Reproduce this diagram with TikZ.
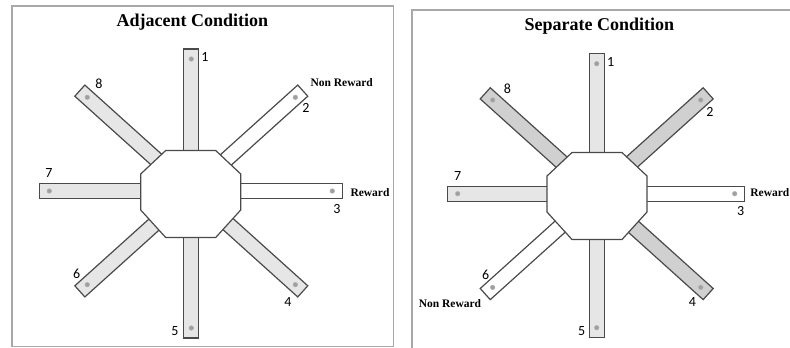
\documentclass[tikz,border=0pt]{standalone}
\usepackage{fontspec}
\setmainfont{Liberation Serif}
\newfontfamily\numfont{Carlito}
\definecolor{armlight}{HTML}{E6E6E6}
\definecolor{armdark}{HTML}{D0D0D0}
\definecolor{edgegray}{HTML}{4A4A4A}
\definecolor{framegray}{HTML}{A8A8A8}
\tikzset{
  armline/.style={draw=edgegray, line width=1.2pt},
  screwdot/.style={fill=gray!75, draw=gray!60, line width=0.5pt},
  octa/.style={draw=edgegray, line width=1.2pt, fill=white},
  num/.style={font=\numfont\fontsize{14}{14}\selectfont, inner sep=0pt},
  tag/.style={font=\bfseries\fontsize{11.5}{12}\selectfont, inner sep=0pt},
  ttl/.style={font=\bfseries\fontsize{18}{20}\selectfont, inner sep=0pt},
  panel/.style={draw=framegray, line width=1.3pt},
}
% center x, center y, angle, length, fill
\newcommand\armbar[5]{%
  \begin{scope}[shift={(#1,#2)}, rotate=#3]
    \draw[armline, fill=#5] (0,-7.5) rectangle (#4,7.5);
    \draw[screwdot] (#4-10,0) circle (2.3);
  \end{scope}}
% center x, center y
\newcommand\octagonbox[2]{%
  \draw[octa] (#1-25,#2-43.5) -- (#1+25,#2-43.5) -- (#1+50,#2-20) -- (#1+50,#2+16)
    -- (#1+25,#2+43.5) -- (#1-25,#2+43.5) -- (#1-50,#2+16) -- (#1-50,#2-20) -- cycle;}
\begin{document}
\begin{tikzpicture}[x=1pt,y=-1pt]
\useasboundingbox (0,0) rectangle (790,348);
\fill[white] (0,0) rectangle (790,348);

% ---------- Left panel ----------
\draw[panel] (12,6) rectangle (393.5,346.5);
\node[ttl] (t1) at (192.3,22.5) {Adjacent Condition};
\armbar{191.3}{191}{90}{142}{armlight}
\armbar{191.3}{191}{42}{150}{white}
\armbar{191.3}{191}{0}{151}{white}
\armbar{191.3}{191}{-42}{150}{armlight}
\armbar{191.3}{191}{-90}{147}{armlight}
\armbar{191.3}{191}{-138}{150}{armlight}
\armbar{191.3}{191}{180}{152}{armlight}
\armbar{191.3}{191}{138}{150}{armlight}
\octagonbox{190.7}{194}
\node[num] (a1) at (205,57) {1};
\node[num] (a2) at (306,107.5) {2};
\node[num] (a3) at (337,209) {3};
\node[num] (a4) at (288,302.5) {4};
\node[num] (a5) at (175,331.5) {5};
\node[num] (a6) at (76.7,274) {6};
\node[num] (a7) at (49,173) {7};
\node[num] (a8) at (99,84) {8};
\node[tag] (anr) at (341.7,82.3) {Non Reward};
\node[tag] (arw) at (370,193) {Reward};

% ---------- Right panel ----------
\draw[panel] (412,352) -- (412,10) -- (795,10);
\node[ttl] (t2) at (599.3,26.5) {Separate Condition};
\armbar{596.7}{193.7}{90}{140}{armlight}
\armbar{596.7}{193.7}{42}{150}{armdark}
\armbar{596.7}{193.7}{0}{148}{white}
\armbar{596.7}{193.7}{-42}{150}{armdark}
\armbar{596.7}{193.7}{-90}{144}{armlight}
\armbar{596.7}{193.7}{-138}{150}{white}
\armbar{596.7}{193.7}{180}{149}{armlight}
\armbar{596.7}{193.7}{138}{150}{armdark}
\octagonbox{597}{196}
\node[num] (b1) at (610.7,61.7) {1};
\node[num] (b2) at (710,111.7) {2};
\node[num] (b3) at (740.7,211) {3};
\node[num] (b4) at (692.3,302.3) {4};
\node[num] (b5) at (581.7,331) {5};
\node[num] (b6) at (485.7,274.7) {6};
\node[num] (b7) at (457.7,176) {7};
\node[num] (b8) at (507.3,89) {8};
\node[tag] (bnr) at (450,303.3) {Non Reward};
\node[tag, anchor=east] (brw) at (789.5,193) {Reward};
\end{tikzpicture}
\end{document}
